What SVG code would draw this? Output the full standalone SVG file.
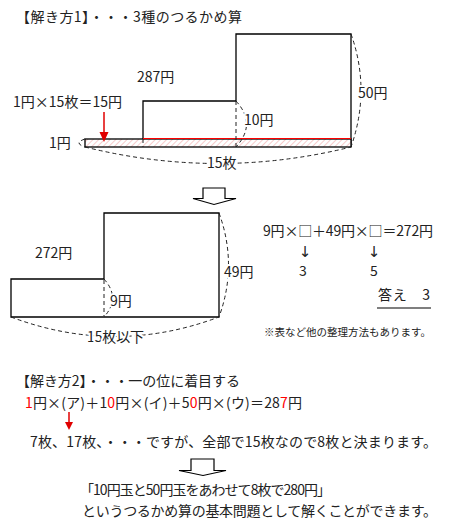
<svg xmlns="http://www.w3.org/2000/svg" width="455" height="526" viewBox="0 0 455 526">
<defs>
<style>
text{font-family:"Noto Sans CJK JP","Liberation Sans",sans-serif;font-size:14px;fill:#222}
.r{fill:#ff0000}
.arr{font-family:"DejaVu Sans","Noto Sans CJK JP",sans-serif;font-size:15px}
.lbl{stroke:#fff;stroke-width:4px;paint-order:stroke;stroke-linejoin:round}
.box{fill:#fff;stroke:#000;stroke-width:1.3}
.dash{fill:none;stroke:#222;stroke-width:1;stroke-dasharray:4 3}
.hollow{fill:#fff;stroke:#000;stroke-width:1.2;stroke-linejoin:miter}
</style>
<pattern id="hatch" patternUnits="userSpaceOnUse" width="4" height="4" patternTransform="rotate(45)">
<rect width="4" height="4" fill="#fff"/>
<line x1="0" y1="0" x2="0" y2="4" stroke="#f2a8a8" stroke-width="1.2"/>
</pattern>
</defs>
<rect width="455" height="526" fill="#fff"/>

<g id="title1"><text x="16" y="22" textLength="226" lengthAdjust="spacing">【解き方1】・・・3種のつるかめ算</text></g>

<g id="fig1">
<path class="box" d="M143,139 V101 H236 V34 H351 V147"/>
<rect x="85" y="139" width="266" height="8" fill="url(#hatch)" stroke="#000" stroke-width="1.3"/>
<line x1="143" y1="138.5" x2="351" y2="138.5" stroke="#ff0000" stroke-width="1.2"/>
</g>

<g id="fig2">
<path class="box" d="M104,279 H11 V317 H219 V213 H104 Z"/>
</g>

<g id="connectors">
<line class="dash" x1="143" y1="139" x2="143" y2="147"/>
<line class="dash" x1="236" y1="101" x2="236" y2="147"/>
<path class="dash" d="M85,139 Q73,143 85,147"/>
<path class="dash" d="M85,147 Q218,180 351,147"/>
<path class="dash" d="M236,101 Q257,124 236,147"/>
<path class="dash" d="M351,34 Q371,90 351,147"/>
<line class="dash" x1="104" y1="280" x2="104" y2="316"/>
<path class="dash" d="M104,279 Q121,298 104,317"/>
<path class="dash" d="M219,213 Q238,265 219,317"/>
<path class="dash" d="M11,317 Q115,356 219,317"/>
<line x1="104" y1="112" x2="104" y2="133" stroke="#e00000" stroke-width="1.5"/>
<polygon points="99.5,132 108.5,132 104,142" fill="#e00000"/>
<line x1="69" y1="412" x2="69" y2="423" stroke="#e00000" stroke-width="1.5"/>
<polygon points="65,422 73,422 69,430" fill="#e00000"/>
<path class="hollow" d="M203,188 H225 V198.5 H236 L214,204.5 L193,198.5 H203 Z"/>
<path class="hollow" d="M191,459 H214 V470.5 H226 L203,475.5 L179,470.5 H191 Z"/>
</g>

<g id="labels1">
<text x="137" y="82">287円</text>
<text x="13" y="107" textLength="109" lengthAdjust="spacing">1円×15枚＝15円</text>
<text x="49" y="148" class="lbl">1円</text>
<text x="207" y="168" class="lbl">15枚</text>
<text x="244" y="125" class="lbl">10円</text>
<text x="358" y="98" class="lbl">50円</text>
</g>

<g id="labels2">
<text x="35" y="258">272円</text>
<text x="110" y="306" class="lbl">9円</text>
<text x="224" y="277" class="lbl">49円</text>
<text x="87" y="342" class="lbl" textLength="57" lengthAdjust="spacing">15枚以下</text>
</g>

<g id="equation1">
<text x="263" y="236" textLength="170" lengthAdjust="spacing">9円×□＋49円×□＝272円</text>
<text class="arr" x="305" y="257" text-anchor="middle">↓</text>
<text class="arr" x="374" y="257" text-anchor="middle">↓</text>
<text x="303" y="276" text-anchor="middle">3</text>
<text x="374" y="276" text-anchor="middle">5</text>
<text x="378" y="300" textLength="52" lengthAdjust="spacing">答え　3</text>
<line x1="377" y1="308" x2="431" y2="308" stroke="#000" stroke-width="1.2"/>
<text x="264" y="336" style="font-size:10.5px" textLength="167" lengthAdjust="spacing">※表など他の整理方法もあります。</text>
</g>

<g id="method2">
<text x="16" y="386" textLength="224" lengthAdjust="spacing">【解き方2】・・・一の位に着目する</text>
<text x="25" y="408" textLength="277" lengthAdjust="spacing"><tspan class="r">1</tspan>円×(ア)＋1<tspan class="r">0</tspan>円×(イ)＋5<tspan class="r">0</tspan>円×(ウ)＝28<tspan class="r">7</tspan>円</text>
<text x="30" y="447" textLength="407" lengthAdjust="spacing">7枚、17枚、・・・ですが、全部で15枚なので8枚と決まります。</text>
<text x="80" y="495" textLength="251" lengthAdjust="spacing">「10円玉と50円玉をあわせて8枚で280円」</text>
<text x="82" y="516" textLength="355" lengthAdjust="spacing">というつるかめ算の基本問題として解くことができます。</text>
</g>
</svg>
